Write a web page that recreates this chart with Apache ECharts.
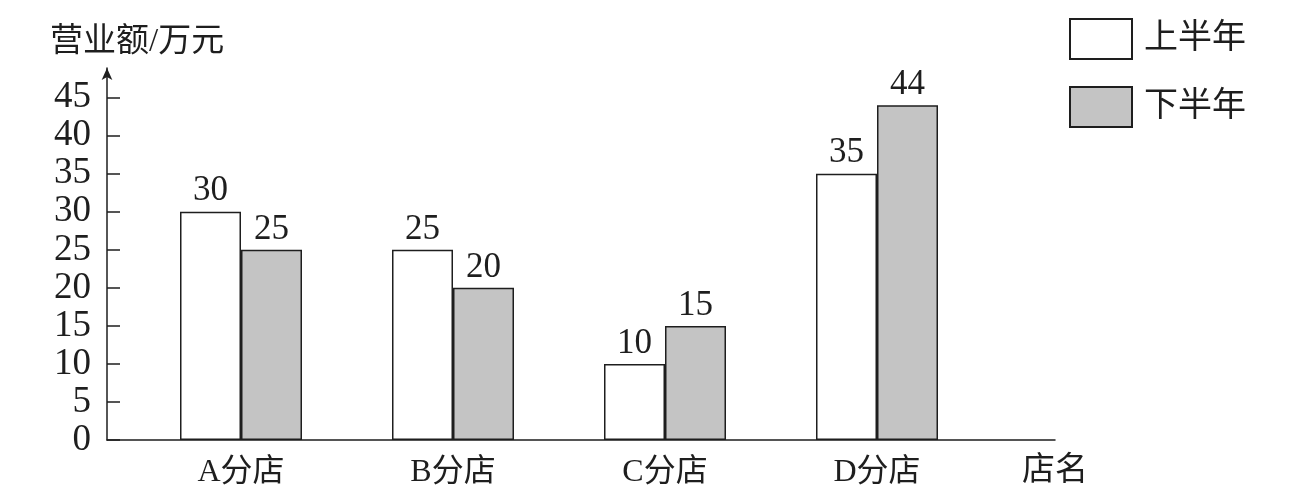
<!DOCTYPE html>
<html>
<head>
<meta charset="utf-8">
<script src="https://cdn.jsdelivr.net/npm/echarts@6/dist/echarts.min.js"></script>
<style>html,body{margin:0;padding:0;background:#fff;}#c{width:1298px;height:498px;}</style>
</head>
<body>
<div id="c"></div>
<script>
var categories = ['A分店', 'B分店', 'C分店', 'D分店'];
var firstHalf = [30, 25, 10, 35];
var secondHalf = [25, 20, 15, 44];
var yTicks = [0, 5, 10, 15, 20, 25, 30, 35, 40, 45];
var seriesNames = ['上半年', '下半年'];
var yAxisName = '营业额/万元';
var xAxisName = '店名';

var FONT = "'Liberation Serif','Noto Sans CJK SC',serif";
var INK = '#1e1e1e';
var YMAX = 48.9;

var chart = echarts.init(document.getElementById('c'), null, {renderer: 'canvas'});
chart.setOption({
  backgroundColor: '#fff',
  animation: false,
  textStyle: {fontFamily: FONT, color: INK},
  title: {
    text: yAxisName, left: 50, top: 26, padding: 0,
    textStyle: {fontSize: 33, fontWeight: 'normal', color: INK, fontFamily: FONT}
  },
  legend: {
    orient: 'vertical', left: 1069, top: 18, padding: 0,
    itemWidth: 62, itemHeight: 40, itemGap: 26,
    icon: 'rect',
    data: seriesNames,
    textStyle: {fontSize: 34, color: INK, fontFamily: FONT, padding: [4, 0, 0, 7]}
  },
  grid: [
    {left: 135, right: 315, top: 68, bottom: 58},
    {left: 107, right: 243, top: 68, bottom: 58}
  ],
  xAxis: [
    {
      gridIndex: 0, type: 'category', data: categories,
      axisLine: {show: false}, axisTick: {show: false},
      axisLabel: {fontSize: 32, color: INK, margin: 17, fontFamily: FONT}
    },
    {
      gridIndex: 1, type: 'value', min: 0, max: 1,
      axisLine: {show: true, lineStyle: {color: INK, width: 1.5}},
      axisTick: {show: false}, axisLabel: {show: false}, splitLine: {show: false},
      name: xAxisName, nameLocation: 'end', nameGap: 0,
      nameTextStyle: {fontSize: 33, color: INK, fontFamily: FONT, align: 'center', verticalAlign: 'top', padding: [15, 0, 0, 0]}
    }
  ],
  yAxis: [
    {
      gridIndex: 0, type: 'value', min: 0, max: YMAX,
      show: false, splitLine: {show: false}
    },
    {
      gridIndex: 1, type: 'value', min: 0, max: YMAX, interval: 5,
      axisLine: {show: true, symbol: ['none', 'arrow'], symbolSize: [8, 12], lineStyle: {color: INK, width: 1.5}},
      axisTick: {show: true, inside: true, length: 13, lineStyle: {color: INK, width: 1.5}, customValues: yTicks},
      axisLabel: {fontSize: 37, color: INK, margin: 16, fontFamily: FONT, customValues: yTicks},
      splitLine: {show: false}
    }
  ],
  series: [
    {
      name: seriesNames[0], type: 'bar', xAxisIndex: 0, yAxisIndex: 0,
      data: firstHalf, barWidth: 61, barGap: '0%',
      itemStyle: {color: '#ffffff', borderColor: INK, borderWidth: 1.5},
      label: {show: true, position: 'top', distance: 3, fontSize: 35, color: INK, fontFamily: FONT}
    },
    {
      name: seriesNames[1], type: 'bar', xAxisIndex: 0, yAxisIndex: 0,
      data: secondHalf, barWidth: 61, barGap: '0%',
      itemStyle: {color: '#c4c4c4', borderColor: INK, borderWidth: 1.5},
      label: {show: true, position: 'top', distance: 3, fontSize: 35, color: INK, fontFamily: FONT}
    }
  ]
});
</script>
</body>
</html>
